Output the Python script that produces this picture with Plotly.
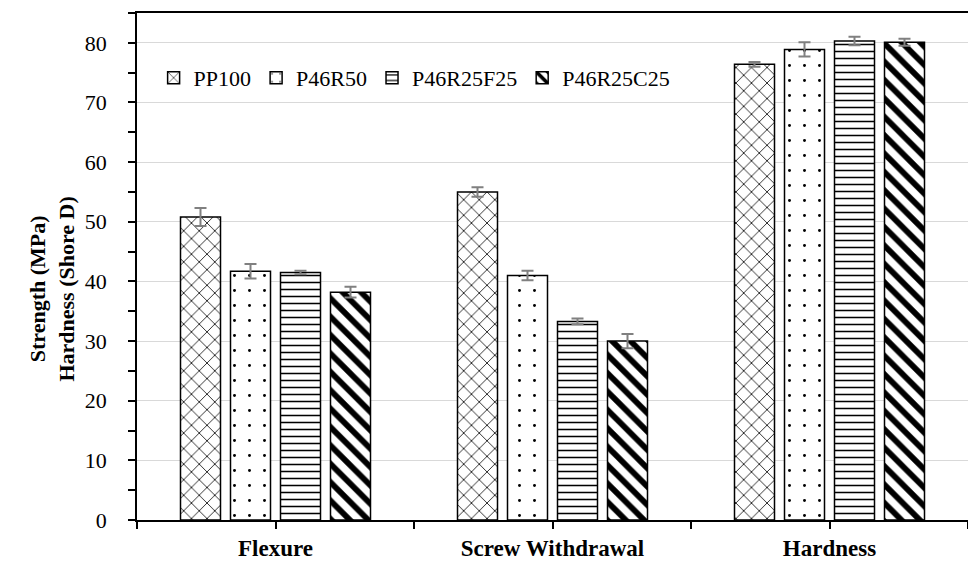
import plotly.graph_objects as go

# Test categories and material blends
categories = ["Flexure", "Screw Withdrawal", "Hardness"]
series_names = ["PP100", "P46R50", "P46R25F25", "P46R25C25"]

# Mean values (MPa for strengths, Shore D for hardness)
pp100 = [50.8, 55.0, 76.4]
p46r50 = [41.7, 41.0, 78.9]
p46r25f25 = [41.5, 33.3, 80.3]
p46r25c25 = [38.2, 30.0, 80.1]

# Standard deviations
pp100_sd = [1.5, 0.8, 0.4]
p46r50_sd = [1.2, 0.8, 1.2]
p46r25f25_sd = [0.3, 0.5, 0.7]
p46r25c25_sd = [0.9, 1.2, 0.6]

y_ticks = [0, 10, 20, 30, 40, 50, 60, 70, 80]

values = [pp100, p46r50, p46r25f25, p46r25c25]
errors = [pp100_sd, p46r50_sd, p46r25f25_sd, p46r25c25_sd]
patterns = [
    dict(shape="x", size=11, solidity=0.14),
    dict(shape=".", size=15, solidity=0.03),
    dict(shape="-", size=7, solidity=0.22),
    dict(shape="\\", size=13, solidity=0.45),
]

serif = "Liberation Serif"
x_pos = list(range(len(categories)))

fig = go.Figure()
for name, vals, err, pat in zip(series_names, values, errors, patterns):
    fig.add_trace(go.Bar(
        name=name,
        x=x_pos,
        y=vals,
        marker=dict(
            color="white",
            line=dict(color="black", width=1.5),
            pattern=dict(fgcolor="black", bgcolor="white", fgopacity=1,
                         fillmode="replace", **pat),
        ),
        error_y=dict(type="data", array=err, color="#808080", thickness=2, width=6),
    ))

# Ticks at category boundaries (unlabelled) and centres (labelled)
tick_vals, tick_text = [], []
for i, c in enumerate(categories):
    tick_vals += [i - 0.5, i]
    tick_text += ["", "<b>" + c + "</b>"]
tick_vals.append(len(categories) - 0.5)
tick_text.append("")

fig.update_layout(
    width=968, height=561,
    margin=dict(l=137, r=0, t=13, b=39),
    paper_bgcolor="white", plot_bgcolor="white",
    barmode="group", bargap=0.278, bargroupgap=0.2,
    font=dict(family=serif, size=22, color="black"),
    legend=dict(
        orientation="h", x=0.02, y=0.872, xanchor="left", yanchor="middle",
        font=dict(family=serif, size=22, color="black"),
        bgcolor="rgba(0,0,0,0)", itemwidth=30,
    ),
    xaxis=dict(
        range=[-0.5, len(categories) - 0.5],
        tickmode="array", tickvals=tick_vals, ticktext=tick_text,
        ticks="outside", ticklen=7, tickcolor="black", tickwidth=1.5,
        showline=True, linecolor="black", linewidth=1.5, mirror=True,
        showgrid=False, zeroline=False,
        tickfont=dict(family=serif, size=23, color="black"),
    ),
    yaxis=dict(
        range=[0, 85], tickmode="array", tickvals=y_ticks,
        ticks="outside", ticklen=7, tickcolor="black", tickwidth=1.5,
        ticklabelstandoff=17,
        minor=dict(dtick=5, ticks="outside", ticklen=7, tickcolor="black", showgrid=False),
        showline=True, linecolor="black", linewidth=1.5,
        showgrid=True, gridcolor="#d9d9d9", gridwidth=1, zeroline=False,
        tickfont=dict(family=serif, size=22, color="black"),
    ),
    annotations=[dict(
        text="<b>Strength (MPa)<br>Hardness (Shore D)</b>",
        xref="paper", yref="paper", x=-0.102, y=0.455,
        xanchor="center", yanchor="middle", textangle=-90, showarrow=False,
        font=dict(family=serif, size=22, color="black"),
    )],
)

fig.write_html("out.html")
